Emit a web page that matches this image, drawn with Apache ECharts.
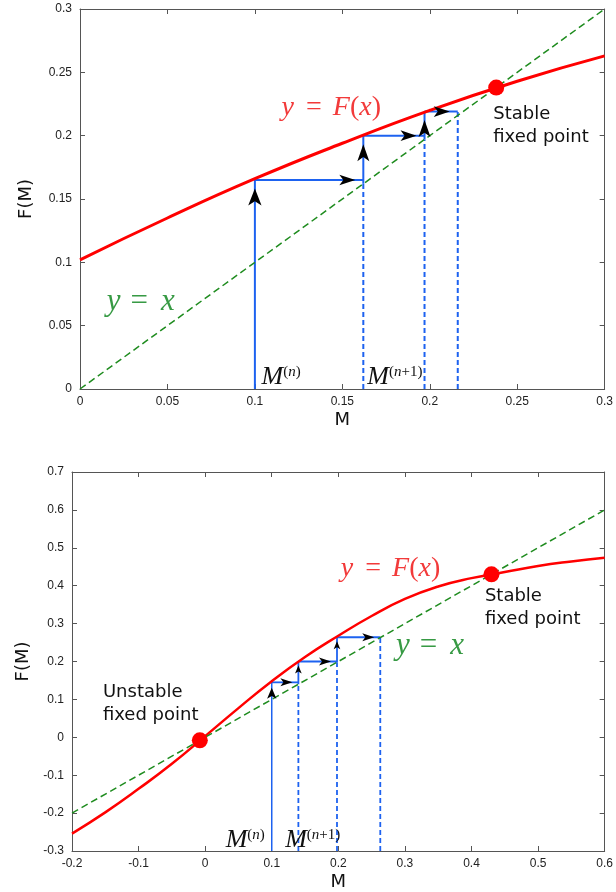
<!DOCTYPE html>
<html>
<head>
<meta charset="utf-8">
<script src="https://cdn.jsdelivr.net/npm/echarts@6/dist/echarts.min.js"></script>
<style>
html,body{margin:0;padding:0;background:#fff;}
#c{width:616px;height:892px;}
</style>
</head>
<body>
<div id="c"></div>
<script>
// ---------------- DATA ----------------
// Top panel
const topXTicks = ['0', '0.05', '0.1', '0.15', '0.2', '0.25', '0.3'];
const topYTicks = ['0', '0.05', '0.1', '0.15', '0.2', '0.25', '0.3'];
const topCurveX = [0, 0.05, 0.1, 0.15, 0.2, 0.25, 0.3];
const topCurveF = [0.102, 0.135, 0.166, 0.194, 0.220, 0.243, 0.263];
const topDiag = [0, 0.3];
const topFixed = [0.238, 0.238];
const topCobX = [0.1, 0.162, 0.197, 0.216];
const topCobY = [0.165, 0.200, 0.219];

// Bottom panel
const botXTicks = ['-0.2', '-0.1', '0', '0.1', '0.2', '0.3', '0.4', '0.5', '0.6'];
const botYTicks = ['-0.3', '-0.2', '-0.1', '0', '0.1', '0.2', '0.3', '0.4', '0.5', '0.6', '0.7'];
const botCurveX = [-0.2, -0.15, -0.1, -0.05, 0, 0.05, 0.1, 0.15, 0.2, 0.25, 0.3, 0.35, 0.4, 0.45, 0.5, 0.55, 0.6];
const botCurveF = [-0.254, -0.198, -0.136, -0.070, 0.003, 0.077, 0.148, 0.212, 0.268, 0.320, 0.365, 0.398, 0.420, 0.436, 0.452, 0.464, 0.474];
const botDiag = [-0.2, 0.6];
const botStable = [0.430, 0.430];
const botUnstable = [-0.008, -0.008];
const botCobX = [0.1, 0.14, 0.198, 0.263];
const botCobY = [0.145, 0.200, 0.264];

// ---------------- STYLE ----------------
const RED = '#ff0000';
const GREEN = '#1f8c1f';
const BLUE = '#1d62f0';
const AXIS = '#555';
const TICKFONT = 'Liberation Sans';
const SANS = 'DejaVu Sans';
const SERIF = 'Liberation Serif';

function range(ticks) {
  const v = ticks.map(Number);
  return { min: v[0], max: v[v.length - 1], interval: Math.round((v[1] - v[0]) * 1e6) / 1e6 };
}

function xAxes(gi, ticks, nameGap) {
  const r = range(ticks);
  const common = {
    gridIndex: gi, type: 'value', min: r.min, max: r.max, interval: r.interval,
    splitLine: { show: false },
    axisLine: { show: true, onZero: false, lineStyle: { color: AXIS, width: 1 } },
    axisTick: { show: true, inside: true, length: 5, lineStyle: { color: AXIS } }
  };
  return [
    Object.assign({}, common, {
      position: 'bottom',
      axisLabel: { show: true, margin: 7, fontFamily: TICKFONT, fontSize: 12, color: '#222' },
      name: 'M', nameLocation: 'middle', nameGap: nameGap,
      nameTextStyle: { fontFamily: SANS, fontSize: 18, color: '#111' }
    }),
    Object.assign({}, common, { position: 'top', axisLabel: { show: false } })
  ];
}
function yAxes(gi, ticks, nameGap) {
  const r = range(ticks);
  const common = {
    gridIndex: gi, type: 'value', min: r.min, max: r.max, interval: r.interval,
    splitLine: { show: false },
    axisLine: { show: true, onZero: false, lineStyle: { color: AXIS, width: 1 } },
    axisTick: { show: true, inside: true, length: 5, lineStyle: { color: AXIS } }
  };
  return [
    Object.assign({}, common, {
      position: 'left',
      axisLabel: { show: true, margin: 8, fontFamily: TICKFONT, fontSize: 12, color: '#222' },
      name: 'F(M)', nameLocation: 'middle', nameGap: nameGap, nameRotate: 90,
      nameTextStyle: { fontFamily: SANS, fontSize: 18, color: '#111' }
    }),
    Object.assign({}, common, { position: 'right', axisLabel: { show: false } })
  ];
}

function seg(gi, pts, dashed, width) {
  return {
    type: 'line', xAxisIndex: gi * 2, yAxisIndex: gi * 2, data: pts,
    symbol: 'none', silent: true, z: 3,
    lineStyle: { color: BLUE, width: width, type: dashed ? [5, 3] : 'solid' }
  };
}

function cobweb(gi, cobX, cobY, yMin, cfg) {
  const out = [];
  const arrows = [];
  const n = cobY.length;
  for (let i = 0; i < n; i++) {
    const x = cobX[i];
    if (i === 0) {
      out.push(seg(gi, [[x, yMin], [x, cobY[i]]], false, cfg.firstW));
    } else {
      out.push(seg(gi, [[x, yMin], [x, x]], true, cfg.w));
      out.push(seg(gi, [[x, x], [x, cobY[i]]], false, cfg.w));
    }
    const vs = i === 0 ? cfg.firstUp : cfg.up;
    arrows.push({ value: [x, cobY[i]], symbolSize: vs, symbolRotate: 0, symbolOffset: [0, vs[1] / 2] });
    out.push(seg(gi, [[x, cobY[i]], [cobX[i + 1], cobY[i]]], false, cfg.w));
    const hs = cfg.right;
    arrows.push({ value: [cobX[i + 1], cobY[i]], symbolSize: hs, symbolRotate: -90, symbolOffset: [-hs[1] / 2, 0] });
  }
  out.push(seg(gi, [[cobX[n], yMin], [cobX[n], cobY[n - 1]]], true, cfg.w));
  out.push({
    type: 'scatter', xAxisIndex: gi * 2, yAxisIndex: gi * 2, symbol: 'arrow',
    itemStyle: { color: '#000', opacity: 1 }, data: arrows, z: 6, silent: true
  });
  return out;
}

function textPoint(gi, x, y, fmt, rich, z) {
  return {
    type: 'scatter', xAxisIndex: gi * 2, yAxisIndex: gi * 2, symbolSize: 1,
    itemStyle: { color: 'rgba(0,0,0,0)', opacity: 1 }, silent: true, z: z || 8,
    data: [[x, y]],
    label: { show: true, position: 'right', distance: 0, opacity: 1, formatter: fmt, rich: rich }
  };
}

function eqRich(color, size, padL, padR) {
  return {
    i: { fontFamily: SERIF, fontStyle: 'italic', fontSize: size, color: color },
    n: { fontFamily: SERIF, fontSize: size, color: color },
    e: { fontFamily: SERIF, fontSize: size, color: color, padding: [0, padR, 0, padL] }
  };
}
const mRich = {
  m: { fontFamily: SERIF, fontStyle: 'italic', fontSize: 26, color: '#111', lineHeight: 26 },
  s: { fontFamily: SERIF, fontSize: 15, color: '#111', verticalAlign: 'top', lineHeight: 15 },
  si: { fontFamily: SERIF, fontStyle: 'italic', fontSize: 15, color: '#111', verticalAlign: 'top', lineHeight: 15 }
};
const noteRich = { t: { fontFamily: SANS, fontSize: 18, color: '#111', lineHeight: 23 } };
const RED_TXT = '#f23a3a';
const GREEN_TXT = '#379a44';

const series = [];
// ---- top panel ----
series.push({
  type: 'line', xAxisIndex: 0, yAxisIndex: 0, symbol: 'none', z: 4, silent: true,
  data: topCurveX.map((x, i) => [x, topCurveF[i]]), smooth: true,
  lineStyle: { color: RED, width: 3 }
});
series.push({
  type: 'line', xAxisIndex: 0, yAxisIndex: 0, symbol: 'none', z: 5, silent: true,
  data: topDiag.map(v => [v, v]), lineStyle: { color: GREEN, width: 1.5, type: [7, 4] }
});
cobweb(0, topCobX, topCobY, 0, { w: 2, firstW: 2, firstUp: [10, 17], up: [9, 17], right: [8, 16] }).forEach(s => series.push(s));
series.push({
  type: 'scatter', xAxisIndex: 0, yAxisIndex: 0, symbol: 'circle', symbolSize: 16, z: 7, silent: true,
  itemStyle: { color: RED, opacity: 1 }, data: [topFixed]
});
series.push(textPoint(0, 0.115, 0.222, '{i|y}{e|=}{i|F}{n|(}{i|x}{n|)}', eqRich(RED_TXT, 28, 12, 11)));
series.push(textPoint(0, 0.015, 0.0687, '{i|y}{e|=}{i|x}', eqRich(GREEN_TXT, 31, 10, 13)));
series.push(textPoint(0, 0.236, 0.208, '{t|Stable}\n{t|fixed point}', noteRich));
series.push(textPoint(0, 0.1035, 0.009, '{m|M}{s|(}{si|n}{s|)}', mRich));
series.push(textPoint(0, 0.164, 0.009, '{m|M}{s|(}{si|n}{s|+1)}', mRich));

// ---- bottom panel ----
series.push({
  type: 'line', xAxisIndex: 2, yAxisIndex: 2, symbol: 'none', z: 4, silent: true,
  data: botCurveX.map((x, i) => [x, botCurveF[i]]), smooth: true,
  lineStyle: { color: RED, width: 2.5 }
});
series.push({
  type: 'line', xAxisIndex: 2, yAxisIndex: 2, symbol: 'none', z: 5, silent: true,
  data: botDiag.map(v => [v, v]), lineStyle: { color: GREEN, width: 1.5, type: [7, 4] }
});
cobweb(1, botCobX, botCobY, -0.3, { w: 1.8, firstW: 1.5, firstUp: [7, 11], up: [5, 8], right: [6, 12] }).forEach(s => series.push(s));
series.push({
  type: 'scatter', xAxisIndex: 2, yAxisIndex: 2, symbol: 'circle', symbolSize: 16, z: 7, silent: true,
  itemStyle: { color: RED, opacity: 1 }, data: [botStable, botUnstable]
});
series.push(textPoint(1, 0.203, 0.4437, '{i|y}{e|=}{i|F}{n|(}{i|x}{n|)}', eqRich(RED_TXT, 28, 12, 11)));
series.push(textPoint(1, 0.286, 0.2416, '{i|y}{e|=}{i|x}', eqRich(GREEN_TXT, 31, 10, 13)));
series.push(textPoint(1, 0.4194, 0.341, '{t|Stable}\n{t|fixed point}', noteRich));
series.push(textPoint(1, -0.1543, 0.0888, '{t|Unstable}\n{t|fixed point}', noteRich));
series.push(textPoint(1, 0.030, -0.272, '{m|M}{s|(}{si|n}{s|)}', mRich));
series.push(textPoint(1, 0.1194, -0.272, '{m|M}{s|(}{si|n}{s|+1)}', mRich));

const option = {
  animation: false,
  backgroundColor: '#ffffff',
  grid: [
    { left: 80, right: 8, top: 9, bottom: 503 },
    { left: 72, right: 8, top: 472, bottom: 40 }
  ],
  xAxis: [].concat(xAxes(0, topXTicks, 22), xAxes(1, botXTicks, 22)),
  yAxis: [].concat(yAxes(0, topYTicks, 45), yAxes(1, botYTicks, 38)),
  series: series
};

const chart = echarts.init(document.getElementById('c'), null, { renderer: 'canvas' });
chart.setOption(option);
</script>
</body>
</html>
